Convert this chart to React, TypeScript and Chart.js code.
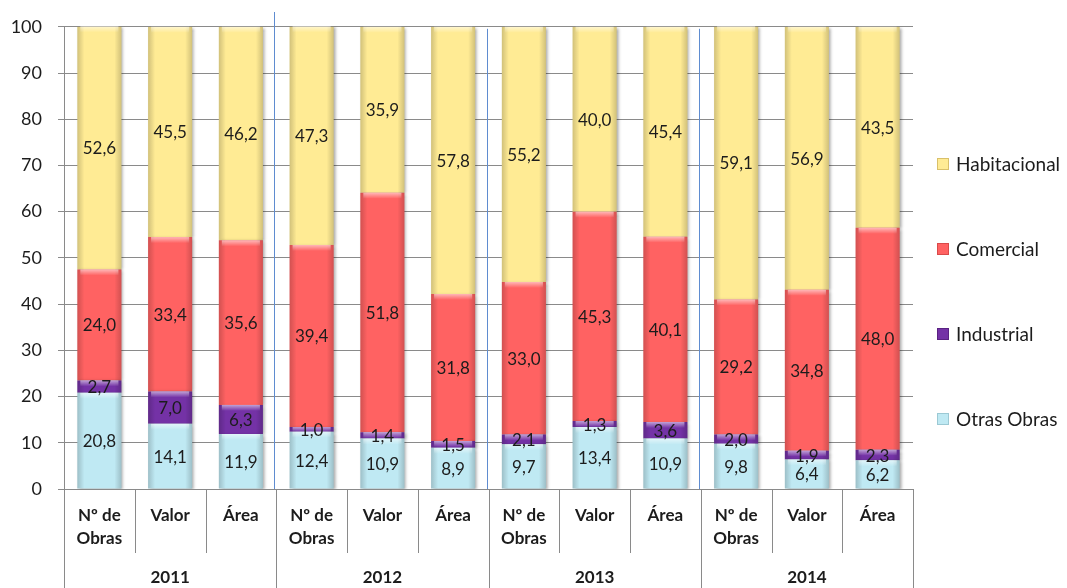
import { useEffect, useRef } from 'react';
import { Chart, registerables } from 'chart.js';

Chart.register(...registerables);

const categoryLabels: string[][] = [
  ['Nº de', 'Obras'], ['Valor'], ['Área'],
  ['Nº de', 'Obras'], ['Valor'], ['Área'],
  ['Nº de', 'Obras'], ['Valor'], ['Área'],
  ['Nº de', 'Obras'], ['Valor'], ['Área'],
];
const years = ['2011', '2012', '2013', '2014'];

const otrasObras = [20.8, 14.1, 11.9, 12.4, 10.9, 8.9, 9.7, 13.4, 10.9, 9.8, 6.4, 6.2];
const industrial = [2.7, 7.0, 6.3, 1.0, 1.4, 1.5, 2.1, 1.3, 3.6, 2.0, 1.9, 2.3];
const comercial = [24.0, 33.4, 35.6, 39.4, 51.8, 31.8, 33.0, 45.3, 40.1, 29.2, 34.8, 48.0];
const habitacional = [52.6, 45.5, 46.2, 47.3, 35.9, 57.8, 55.2, 40.0, 45.4, 59.1, 56.9, 43.5];

const seriesNames = ['Otras Obras', 'Industrial', 'Comercial', 'Habitacional'];
const yTicks = [0, 10, 20, 30, 40, 50, 60, 70, 80, 90, 100];

const COLORS = ['#BFE9F3', '#7432A6', '#FF6262', '#FFEB94'];
const BORDERS = ['#9CC9D4', '#5A2282', '#D94A4A', '#D9C06A'];
const FONT = 'Lato, "Open Sans", sans-serif';
const TEXT = '#1c1c1c';
const GRID = '#8a8a8a';

const fmt = (v: number) => v.toFixed(1).replace('.', ',');

const barStylePlugin = {
  id: 'barStyle',
  beforeDatasetDraw(chart: any) {
    const ctx = chart.ctx;
    ctx.save();
    ctx.shadowColor = 'rgba(0,0,0,0.35)';
    ctx.shadowBlur = 3;
    ctx.shadowOffsetX = 2;
    ctx.shadowOffsetY = 1;
  },
  afterDatasetDraw(chart: any) {
    chart.ctx.restore();
  },
  afterDatasetsDraw(chart: any) {
    const ctx = chart.ctx;
    ctx.save();
    chart.data.datasets.forEach((ds: any, di: number) => {
      const meta = chart.getDatasetMeta(di);
      meta.data.forEach((el: any) => {
        const left = el.x - el.width / 2;
        const right = el.x + el.width / 2;
        const top = Math.min(el.y, el.base);
        const h = Math.abs(el.base - el.y);
        if (h < 0.5) return;
        let g = ctx.createLinearGradient(left, 0, left + 7, 0);
        g.addColorStop(0, 'rgba(0,0,0,0.18)');
        g.addColorStop(1, 'rgba(0,0,0,0)');
        ctx.fillStyle = g;
        ctx.fillRect(left, top, 7, h);
        g = ctx.createLinearGradient(right - 7, 0, right, 0);
        g.addColorStop(0, 'rgba(0,0,0,0)');
        g.addColorStop(1, 'rgba(0,0,0,0.18)');
        ctx.fillStyle = g;
        ctx.fillRect(right - 7, top, 7, h);
        const th = Math.min(6, h);
        g = ctx.createLinearGradient(0, top, 0, top + th);
        g.addColorStop(0, 'rgba(255,255,255,0.55)');
        g.addColorStop(1, 'rgba(255,255,255,0)');
        ctx.fillStyle = g;
        ctx.fillRect(left + 3, top, el.width - 6, th);
      });
    });
    // data labels
    ctx.font = `17px ${FONT}`;
    ctx.fillStyle = TEXT;
    ctx.textAlign = 'center';
    ctx.textBaseline = 'middle';
    chart.data.datasets.forEach((ds: any, di: number) => {
      const meta = chart.getDatasetMeta(di);
      meta.data.forEach((el: any, i: number) => {
        const v = ds.data[i];
        ctx.fillText(fmt(v), el.x, (el.y + el.base) / 2 + 1);
      });
    });
    ctx.restore();
  },
};

const axisPlugin = {
  id: 'multiAxis',
  afterDraw(chart: any) {
    const ctx = chart.ctx;
    const { left, right, top, bottom } = chart.chartArea;
    const n = categoryLabels.length;
    const w = (right - left) / n;
    const H = chart.height;
    ctx.save();
    ctx.strokeStyle = GRID;
    ctx.lineWidth = 1;
    ctx.beginPath();
    ctx.moveTo(left, bottom + 0.5);
    ctx.lineTo(right, bottom + 0.5);
    for (let k = 0; k <= n; k++) {
      const x = Math.round(left + k * w) + 0.5;
      ctx.moveTo(x, bottom);
      ctx.lineTo(x, k % 3 === 0 ? H : 553);
    }
    ctx.stroke();
    // blue year separators
    ctx.strokeStyle = '#5F8CD0';
    ctx.beginPath();
    for (let k = 3; k < n; k += 3) {
      const x = Math.round(left + k * w) - 1.5;
      ctx.moveTo(x, k === 3 ? 12 : top + 2);
      ctx.lineTo(x, bottom);
    }
    ctx.stroke();
    // labels
    ctx.fillStyle = TEXT;
    ctx.font = `bold 17px ${FONT}`;
    ctx.textAlign = 'center';
    ctx.textBaseline = 'middle';
    categoryLabels.forEach((lines, i) => {
      const cx = left + (i + 0.5) * w;
      lines.forEach((ln, j) => ctx.fillText(ln, cx, 516 + j * 23));
    });
    years.forEach((y, i) => {
      const cx = left + (i * 3 + 1.5) * w;
      ctx.fillText(y, cx, 578);
    });
    // legend
    const legendOrder = [3, 2, 1, 0];
    ctx.font = `19px ${FONT}`;
    ctx.textAlign = 'left';
    legendOrder.forEach((di, j) => {
      const cy = 164 + j * 85;
      const mx = 937;
      ctx.fillStyle = COLORS[di];
      ctx.fillRect(mx, cy - 6, 12, 12);
      ctx.strokeStyle = BORDERS[di];
      ctx.strokeRect(mx + 0.5, cy - 5.5, 11, 11);
      ctx.fillStyle = TEXT;
      ctx.fillText(seriesNames[di], 956, cy + 1);
    });
    ctx.restore();
  },
};

export default function App() {
  const ref = useRef<HTMLCanvasElement>(null);
  useEffect(() => {
    document.body.style.margin = '0';
    const canvas = ref.current!;
    const values = [otrasObras, industrial, comercial, habitacional];
    const chart = new Chart(canvas, {
      type: 'bar',
      data: {
        labels: categoryLabels.map((l) => l.join(' ')),
        datasets: values.map((d, i) => ({
          label: seriesNames[i],
          data: d,
          backgroundColor: COLORS[i],
          borderColor: BORDERS[i],
          borderWidth: 0,
          categoryPercentage: 1,
          barPercentage: 0.623,
        })),
      },
      options: {
        animation: false,
        responsive: false,
        devicePixelRatio: 1,
        layout: { padding: { top: 22, right: 154, bottom: 99, left: 0 } },
        plugins: { legend: { display: false }, tooltip: { enabled: false } },
        scales: {
          x: { stacked: true, display: false },
          y: {
            stacked: true,
            min: 0,
            max: 100,
            afterFit: (axis: any) => { axis.width = 64; },
            afterBuildTicks: (axis: any) => { axis.ticks = yTicks.map((v) => ({ value: v })); },
            ticks: { font: { family: FONT, size: 18 }, color: TEXT, padding: 16 },
            grid: { color: GRID, tickLength: 6, lineWidth: 1 },
            border: { color: GRID },
          },
        },
      },
      plugins: [barStylePlugin, axisPlugin],
    });
    return () => chart.destroy();
  }, []);
  return (
    <div style={{ width: 1067, height: 588 }}>
      <canvas ref={ref} width={1067} height={588} style={{ display: 'block' }} />
    </div>
  );
}
